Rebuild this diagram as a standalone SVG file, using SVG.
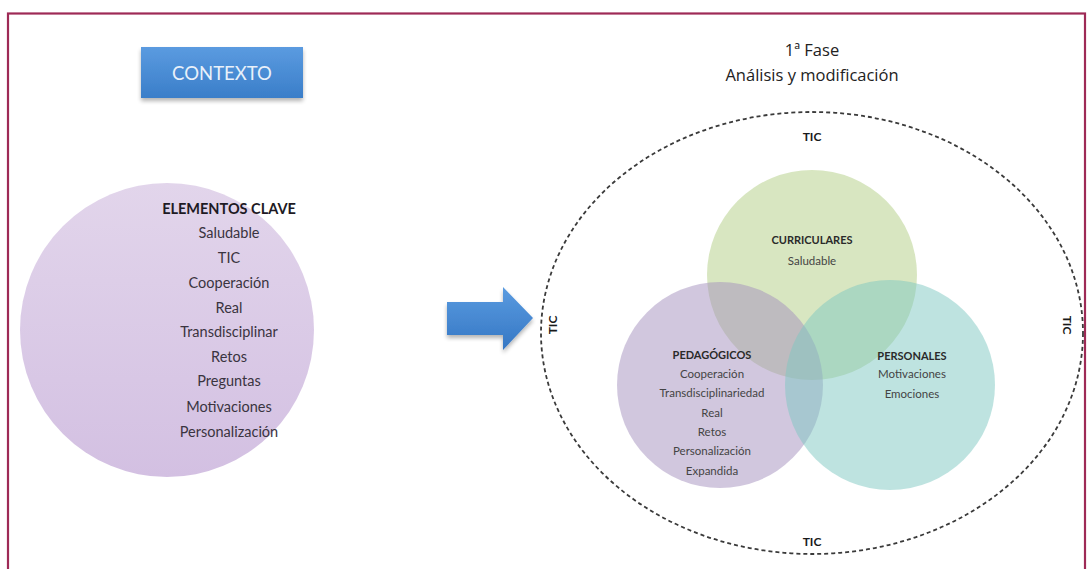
<svg xmlns="http://www.w3.org/2000/svg" width="1088" height="569" viewBox="0 0 1088 569">
  <defs>
    <linearGradient id="blueGrad" x1="0" y1="0" x2="0" y2="1">
      <stop offset="0" stop-color="#5b9be0"/>
      <stop offset="1" stop-color="#3a7ec9"/>
    </linearGradient>
    <linearGradient id="arrowGrad" x1="0" y1="0" x2="0" y2="1">
      <stop offset="0" stop-color="#5a9be0"/>
      <stop offset="1" stop-color="#3577c4"/>
    </linearGradient>
    <linearGradient id="lilacGrad" x1="0" y1="0" x2="0" y2="1">
      <stop offset="0" stop-color="#e2d5eb"/>
      <stop offset="1" stop-color="#d3c0e2"/>
    </linearGradient>
    <filter id="shadow" x="-20%" y="-20%" width="140%" height="160%">
      <feGaussianBlur in="SourceAlpha" stdDeviation="2"/>
      <feOffset dx="0" dy="3"/>
      <feComponentTransfer><feFuncA type="linear" slope="0.3"/></feComponentTransfer>
      <feMerge><feMergeNode/><feMergeNode in="SourceGraphic"/></feMerge>
    </filter>
    <style>
      .t { font-family: Lato, "Open Sans", "Liberation Sans", sans-serif; text-anchor: middle; fill: #3a3440; }
      .lh { font-size: 14.5px; font-weight: bold; fill: #1e1a24; }
      .li { font-size: 14.5px; }
      .vh { font-size: 11px; font-weight: bold; fill: #2a2a2a; }
      .vi { font-size: 11.5px; fill: #444; }
      .tic { font-family: Lato, "Liberation Sans", sans-serif; font-size: 12px; font-weight: bold; fill: #1a1a1a; text-anchor: middle; }
      .title { font-family: "Open Sans", Lato, "Liberation Sans", sans-serif; font-size: 16.5px; fill: #222; text-anchor: middle; }
    </style>
  </defs>

  <rect width="1088" height="569" fill="#ffffff"/>
  <!-- page frame -->
  <rect x="8" y="13.5" width="1077" height="600" fill="none" stroke="#9e2a56" stroke-width="2.2"/>

  <!-- context label -->
  <g id="contexto">
    <rect x="141" y="47" width="162" height="51" fill="url(#blueGrad)" filter="url(#shadow)"/>
    <text class="t" x="222" y="80" style="font-size:18.5px;fill:#e9f1fa">CONTEXTO</text>
  </g>

  <!-- key elements circle -->
  <g id="elementos-clave">
    <circle cx="167" cy="330" r="147" fill="url(#lilacGrad)"/>
    <text class="t lh" x="229" y="214">ELEMENTOS CLAVE</text>
    <text class="t li" x="229" y="238">Saludable</text>
    <text class="t li" x="229" y="263">TIC</text>
    <text class="t li" x="229" y="288">Cooperación</text>
    <text class="t li" x="229" y="313">Real</text>
    <text class="t li" x="229" y="337">Transdisciplinar</text>
    <text class="t li" x="229" y="362">Retos</text>
    <text class="t li" x="229" y="386">Preguntas</text>
    <text class="t li" x="229" y="412">Motivaciones</text>
    <text class="t li" x="229" y="437">Personalización</text>
  </g>

  <!-- connectors -->
  <g id="connectors">
    <path d="M447,302 L503,302 L503,287 L533,318 L503,350 L503,335 L447,335 Z" fill="url(#arrowGrad)" filter="url(#shadow)"/>
  </g>

  <!-- phase title -->
  <g id="fase">
    <text class="title" x="812" y="56">1ª Fase</text>
    <text class="title" x="812" y="81">Análisis y modificación</text>
  </g>

  <!-- TIC boundary -->
  <g id="tic-boundary">
    <ellipse cx="812" cy="333" rx="271" ry="221" fill="none" stroke="#3a3a3a" stroke-width="1.8" stroke-dasharray="4,3"/>
    <text class="tic" x="812" y="141">TIC</text>
    <text class="tic" x="812" y="546">TIC</text>
    <text class="tic" transform="translate(557,325) rotate(-90)">TIC</text>
    <text class="tic" transform="translate(1063,325) rotate(90)">TIC</text>
  </g>

  <!-- venn sets -->
  <g id="curriculares">
    <circle cx="812" cy="275" r="105" fill="#c9dca9" fill-opacity="0.72"/>
  </g>
  <g id="pedagogicos">
    <circle cx="720" cy="385" r="103" fill="#a48fbd" fill-opacity="0.5"/>
  </g>
  <g id="personales">
    <circle cx="890" cy="385" r="105" fill="#7ec8c2" fill-opacity="0.5"/>
  </g>

  <g id="venn-labels">
    <text class="t vh" x="812" y="244">CURRICULARES</text>
    <text class="t vi" x="812" y="265">Saludable</text>

    <text class="t vh" x="712" y="359">PEDAGÓGICOS</text>
    <text class="t vi" x="712" y="378">Cooperación</text>
    <text class="t vi" x="712" y="397">Transdisciplinariedad</text>
    <text class="t vi" x="712" y="417">Real</text>
    <text class="t vi" x="712" y="436">Retos</text>
    <text class="t vi" x="712" y="455">Personalización</text>
    <text class="t vi" x="712" y="475">Expandida</text>

    <text class="t vh" x="912" y="360">PERSONALES</text>
    <text class="t vi" x="912" y="378">Motivaciones</text>
    <text class="t vi" x="912" y="398">Emociones</text>
  </g>
</svg>
